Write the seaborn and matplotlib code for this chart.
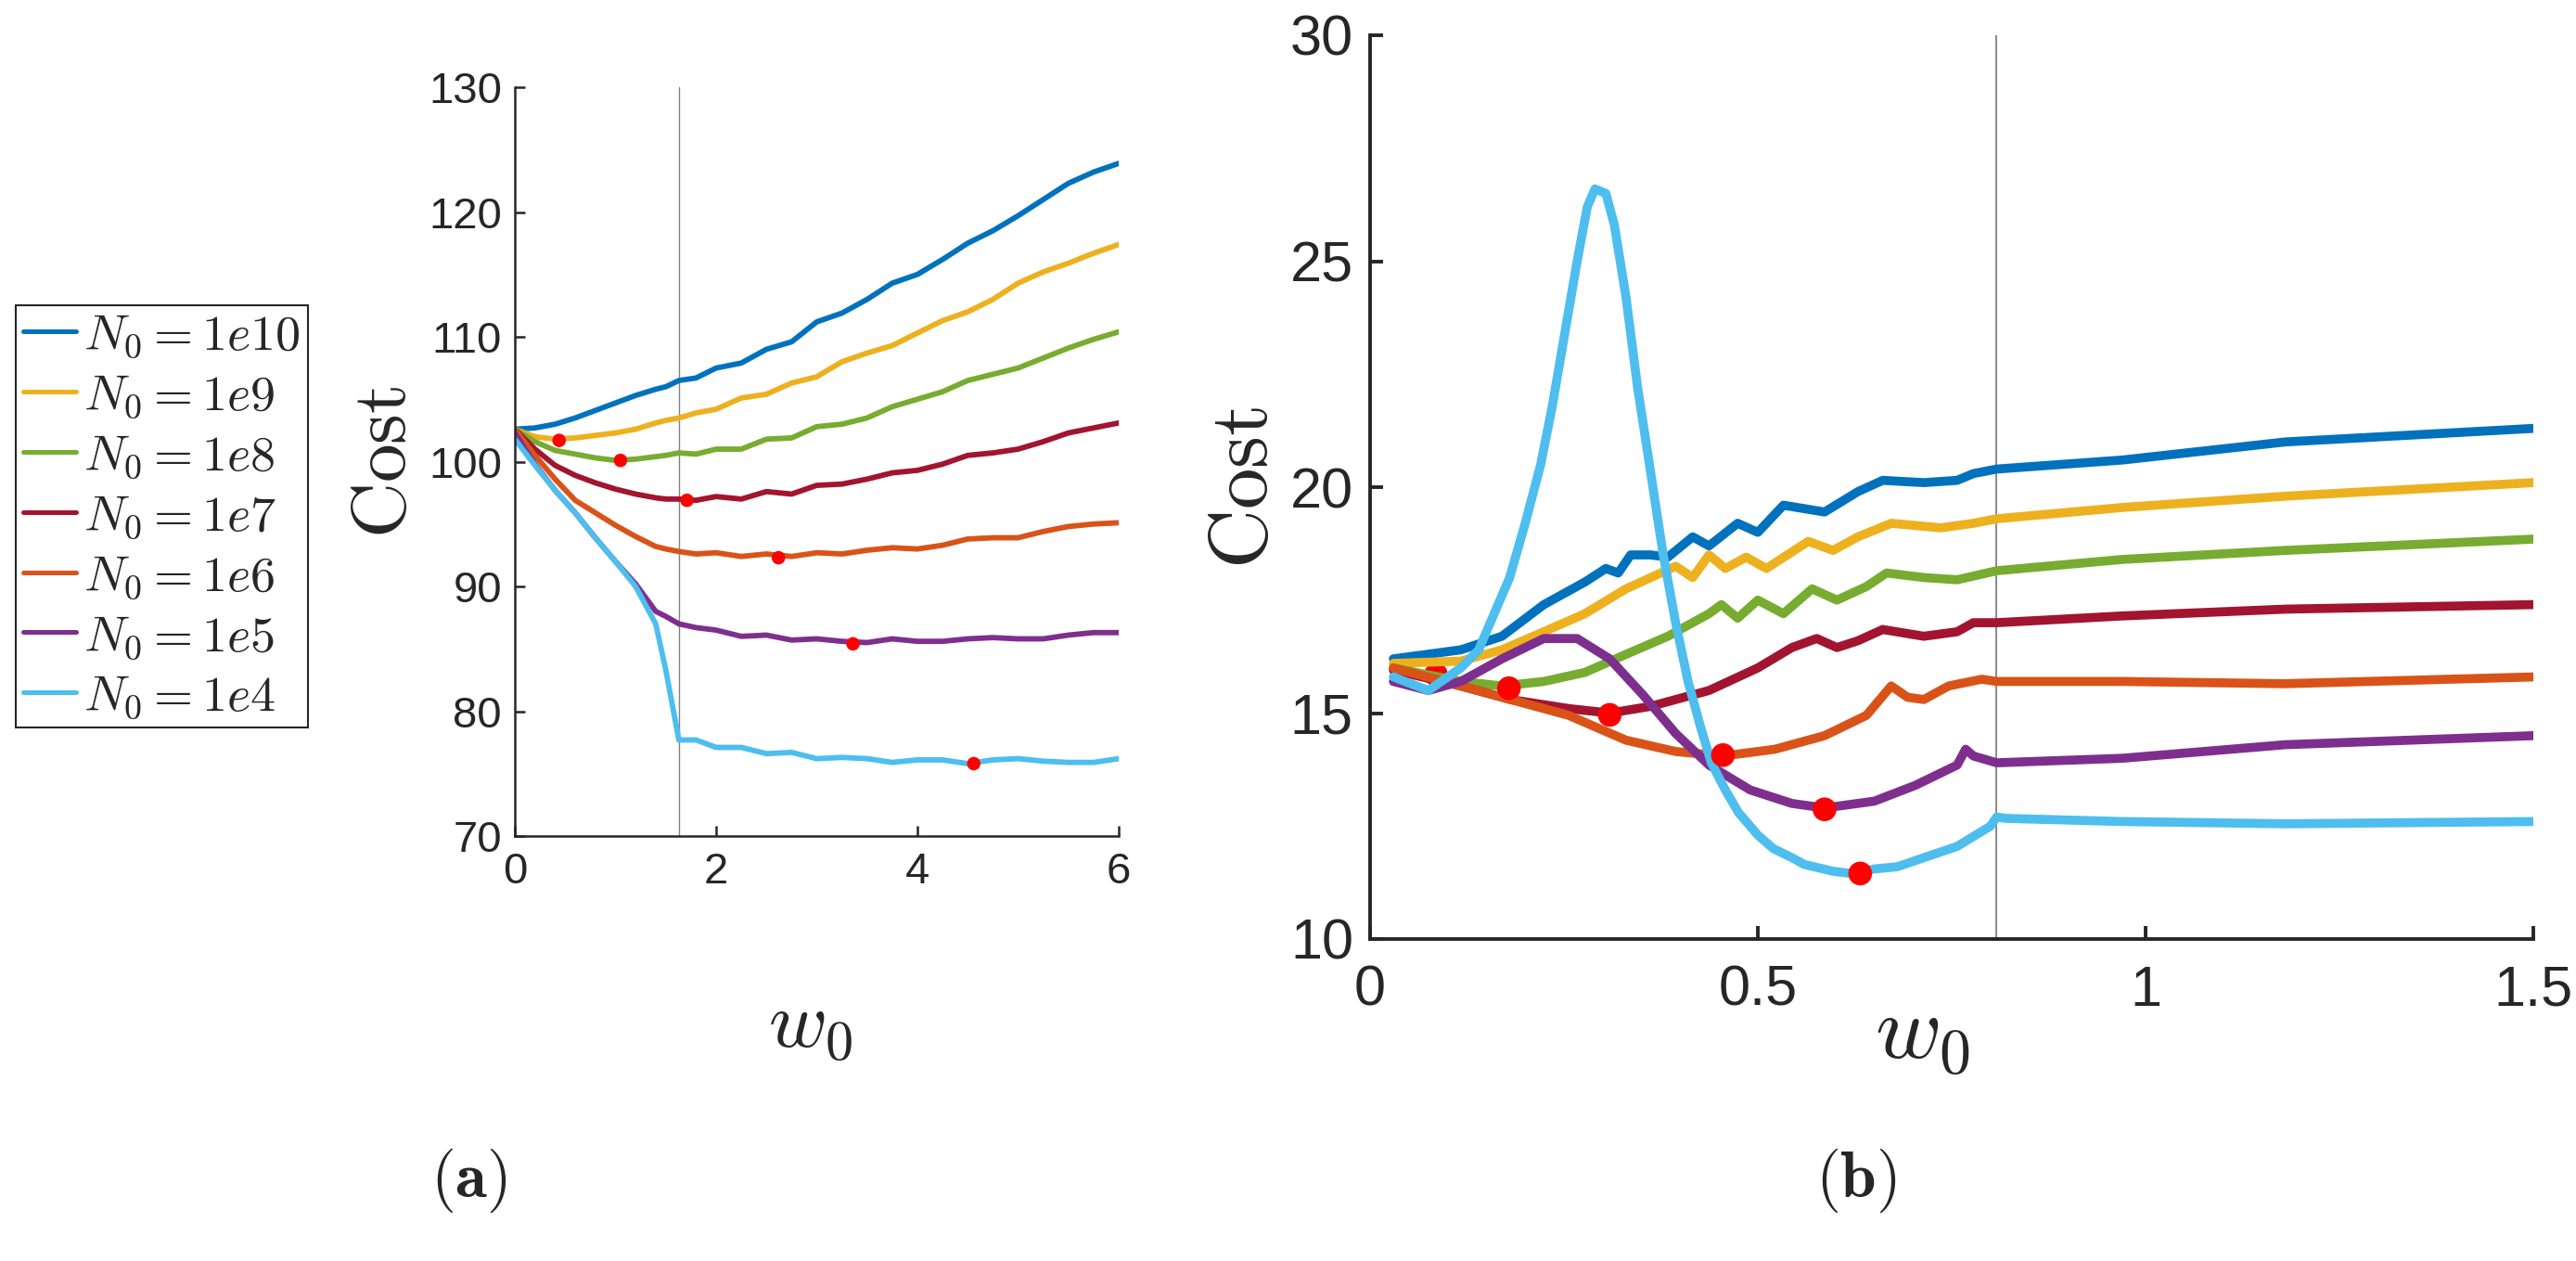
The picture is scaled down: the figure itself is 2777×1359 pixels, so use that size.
import matplotlib
matplotlib.use('Agg')
import numpy as np
import pandas as pd
import matplotlib.pyplot as plt
import seaborn as sns

# Series labels and MATLAB default colours
LABELS = [r'$N_0 = 1e10$', r'$N_0 = 1e9$', r'$N_0 = 1e8$', r'$N_0 = 1e7$',
          r'$N_0 = 1e6$', r'$N_0 = 1e5$', r'$N_0 = 1e4$']
COLORS = ['#0072BD', '#EDB120', '#77AC30', '#A2142F', '#D95319', '#7E2F8E', '#4DBEEE']

# Panel (a) values
W0_A = [0, 0.2, 0.4, 0.6, 0.8, 1.0, 1.2, 1.4, 1.5, 1.63, 1.8, 2.0, 2.25, 2.5, 2.75,
        3.0, 3.25, 3.5, 3.75, 4.0, 4.25, 4.5, 4.75, 5.0, 5.25, 5.5, 5.75, 6.0]
COST_A_1E10 = [102.6, 102.7, 103.0, 103.5, 104.1, 104.7, 105.3, 105.8, 106.0, 106.5, 106.7, 107.5, 107.9, 109.0,
               109.6, 111.2, 111.9, 113.0, 114.3, 115.0, 116.2, 117.5, 118.5, 119.7, 121.0, 122.3, 123.2, 123.9]
COST_A_1E9 = [102.6, 102.0, 101.8, 101.9, 102.1, 102.3, 102.6, 103.1, 103.3, 103.5, 103.9, 104.2, 105.1, 105.4,
              106.3, 106.8, 108.0, 108.7, 109.3, 110.3, 111.3, 112.0, 113.0, 114.3, 115.2, 115.9, 116.7, 117.4]
COST_A_1E8 = [102.6, 101.6, 100.9, 100.6, 100.3, 100.1, 100.2, 100.4, 100.5, 100.7, 100.6, 101.0, 101.0, 101.8,
              101.9, 102.8, 103.0, 103.5, 104.4, 105.0, 105.6, 106.5, 107.0, 107.5, 108.3, 109.1, 109.8, 110.4]
COST_A_1E7 = [102.6, 101.0, 99.7, 98.9, 98.3, 97.8, 97.4, 97.1, 97.0, 97.0, 96.9, 97.2, 97.0, 97.6,
              97.4, 98.1, 98.2, 98.6, 99.1, 99.3, 99.8, 100.5, 100.7, 101.0, 101.6, 102.3, 102.7, 103.1]
COST_A_1E6 = [102.6, 100.5, 98.6, 96.9, 95.9, 94.9, 94.0, 93.2, 93.0, 92.8, 92.6, 92.7, 92.4, 92.6,
              92.4, 92.7, 92.6, 92.9, 93.1, 93.0, 93.3, 93.8, 93.9, 93.9, 94.4, 94.8, 95.0, 95.1]
COST_A_1E5 = [102.3, 99.8, 97.7, 95.9, 93.9, 92.0, 90.2, 88.0, 87.6, 87.0, 86.7, 86.5, 86.0, 86.1,
              85.7, 85.8, 85.6, 85.5, 85.8, 85.6, 85.6, 85.8, 85.9, 85.8, 85.8, 86.1, 86.3, 86.3]
COST_A_1E4 = [101.8, 99.7, 97.7, 95.9, 93.9, 92.0, 90.0, 87.0, 83.3, 77.7, 77.7, 77.1, 77.1, 76.6,
              76.7, 76.2, 76.3, 76.2, 75.9, 76.1, 76.1, 75.8, 76.1, 76.2, 76.0, 75.9, 75.9, 76.2]
MIN_W0_A = [0.44, 1.05, 1.71, 2.62, 3.36, 4.56]
MIN_COST_A = [101.7, 100.1, 96.9, 92.3, 85.4, 75.8]
SWITCH_A = 1.635

# Panel (b) values
W0_B_1E10 = [0.03, 0.117, 0.17, 0.224, 0.277, 0.304, 0.32, 0.336, 0.362, 0.384, 0.416, 0.437, 0.474,
             0.5, 0.533, 0.586, 0.629, 0.661, 0.714, 0.757, 0.778, 0.808, 0.97, 1.18, 1.5]
COST_B_1E10 = [16.2, 16.4, 16.7, 17.4, 17.9, 18.2, 18.1, 18.5, 18.5, 18.45, 18.9, 18.7, 19.2,
               19.0, 19.6, 19.45, 19.9, 20.15, 20.1, 20.15, 20.3, 20.4, 20.6, 21.0, 21.3]
W0_B_1E9 = [0.03, 0.117, 0.17, 0.224, 0.277, 0.33, 0.362, 0.394, 0.416, 0.437, 0.458, 0.485, 0.511,
            0.565, 0.597, 0.629, 0.672, 0.736, 0.778, 0.808, 0.97, 1.18, 1.5]
COST_B_1E9 = [16.1, 16.15, 16.4, 16.8, 17.2, 17.75, 18.0, 18.25, 18.0, 18.5, 18.2, 18.45, 18.2,
              18.8, 18.6, 18.9, 19.2, 19.1, 19.2, 19.3, 19.55, 19.8, 20.1]
W0_B_1E8 = [0.03, 0.117, 0.17, 0.224, 0.277, 0.33, 0.384, 0.437, 0.453, 0.474, 0.5, 0.533, 0.57,
            0.602, 0.64, 0.666, 0.714, 0.757, 0.808, 0.97, 1.18, 1.5]
COST_B_1E8 = [16.0, 15.7, 15.6, 15.7, 15.9, 16.3, 16.7, 17.2, 17.4, 17.1, 17.5, 17.2, 17.75,
              17.5, 17.8, 18.1, 18.0, 17.95, 18.15, 18.4, 18.6, 18.85]
W0_B_1E7 = [0.03, 0.117, 0.181, 0.256, 0.309, 0.362, 0.437, 0.5, 0.544, 0.576, 0.602, 0.629, 0.661,
            0.714, 0.757, 0.778, 0.808, 0.97, 1.18, 1.5]
COST_B_1E7 = [15.95, 15.6, 15.3, 15.1, 15.0, 15.15, 15.5, 16.0, 16.45, 16.65, 16.45, 16.6, 16.85,
              16.7, 16.8, 17.0, 17.0, 17.15, 17.3, 17.4]
W0_B_1E6 = [0.03, 0.117, 0.181, 0.256, 0.33, 0.394, 0.455, 0.522, 0.586, 0.64, 0.672, 0.693, 0.714,
            0.746, 0.789, 0.808, 0.97, 1.18, 1.5]
COST_B_1E6 = [16.0, 15.6, 15.3, 14.95, 14.4, 14.15, 14.05, 14.2, 14.5, 14.95, 15.6, 15.35, 15.3,
              15.6, 15.75, 15.7, 15.7, 15.65, 15.8]
W0_B_1E5 = [0.03, 0.075, 0.117, 0.17, 0.224, 0.267, 0.309, 0.352, 0.394, 0.437, 0.49, 0.544, 0.586,
            0.65, 0.703, 0.757, 0.768, 0.778, 0.808, 0.97, 1.18, 1.5]
COST_B_1E5 = [15.7, 15.5, 15.7, 16.2, 16.65, 16.65, 16.2, 15.4, 14.55, 13.85, 13.3, 13.0, 12.9,
              13.05, 13.4, 13.85, 14.2, 14.05, 13.9, 14.0, 14.3, 14.5]
W0_B_1E4 = [0.03, 0.075, 0.117, 0.14, 0.16, 0.18, 0.2, 0.22, 0.235, 0.25, 0.267, 0.28, 0.29, 0.304,
            0.315, 0.33, 0.345, 0.362, 0.378, 0.394, 0.41, 0.426, 0.44, 0.458, 0.475, 0.5, 0.52,
            0.544, 0.56, 0.597, 0.62, 0.65, 0.68, 0.714, 0.757, 0.8, 0.808, 0.82, 0.97, 1.18, 1.5]
COST_B_1E4 = [15.8, 15.5, 16.0, 16.4, 17.2, 18.0, 19.2, 20.5, 21.8, 23.3, 25.0, 26.2, 26.6, 26.5,
              25.8, 24.2, 22.2, 20.3, 18.5, 17.0, 15.7, 14.7, 13.9, 13.3, 12.8, 12.3, 12.0,
              11.8, 11.65, 11.5, 11.45, 11.55, 11.6, 11.8, 12.05, 12.5, 12.7, 12.67, 12.6, 12.55, 12.6]
MIN_W0_B = [0.179, 0.309, 0.455, 0.586, 0.632]
MIN_COST_B = [15.55, 14.96, 14.07, 12.87, 11.45]
HIDDEN_MIN_W0_B = [0.085]
HIDDEN_MIN_COST_B = [15.85]
SWITCH_B = 0.808


def long_frame(xs, ys):
    parts = []
    for label, x, y in zip(LABELS, xs, ys):
        parts.append(pd.DataFrame({'w0': x, 'cost': y, 'series': label}))
    return pd.concat(parts, ignore_index=True)


df_a = long_frame([W0_A] * 7, [COST_A_1E10, COST_A_1E9, COST_A_1E8, COST_A_1E7,
                                COST_A_1E6, COST_A_1E5, COST_A_1E4])
df_b = long_frame([W0_B_1E10, W0_B_1E9, W0_B_1E8, W0_B_1E7, W0_B_1E6, W0_B_1E5, W0_B_1E4],
                  [COST_B_1E10, COST_B_1E9, COST_B_1E8, COST_B_1E7, COST_B_1E6, COST_B_1E5, COST_B_1E4])

sns.set_theme(style='ticks')
plt.rcParams['font.family'] = ['Liberation Sans', 'DejaVu Sans']
plt.rcParams['mathtext.fontset'] = 'cm'
DARK = '#262626'

W, H = 2777, 1359
fig = plt.figure(figsize=(W / 100, H / 100), dpi=100)
ax_a = fig.add_axes([555 / W, 1 - 901 / H, 651 / W, 807 / H])
ax_b = fig.add_axes([1477 / W, 1 - 1012 / H, 1254 / W, 974 / H])

sns.lineplot(data=df_a, x='w0', y='cost', hue='series', hue_order=LABELS, palette=COLORS,
             sort=False, estimator=None, linewidth=4.2, ax=ax_a)
sns.lineplot(data=df_b, x='w0', y='cost', hue='series', hue_order=LABELS, palette=COLORS,
             sort=False, estimator=None, linewidth=7, legend=False, ax=ax_b)

sns.scatterplot(x=MIN_W0_A, y=MIN_COST_A, color='red', s=110, edgecolor='none', zorder=5, ax=ax_a)
sns.scatterplot(x=MIN_W0_B, y=MIN_COST_B, color='red', s=340, edgecolor='none', zorder=5, ax=ax_b)
sns.scatterplot(x=HIDDEN_MIN_W0_B, y=HIDDEN_MIN_COST_B, color='red', s=340, edgecolor='none',
                zorder=1.5, ax=ax_b)

ax_a.axvline(SWITCH_A, color='#808080', linewidth=1.0, zorder=1)
ax_b.axvline(SWITCH_B, color='#808080', linewidth=1.3, zorder=1)

handles, labels = ax_a.get_legend_handles_labels()
ax_a.get_legend().remove()

# Axis styling (MATLAB-like: box off, ticks inside)
for ax, tsize, lw, tlen in [(ax_a, 34, 1.8, 8), (ax_b, 44, 2.8, 10)]:
    sns.despine(ax=ax)
    for side in ['left', 'bottom']:
        ax.spines[side].set_linewidth(lw)
        ax.spines[side].set_color(DARK)
    ax.tick_params(direction='in', length=tlen, width=lw, colors=DARK, labelsize=tsize)

ax_a.set_xlim(0, 6)
ax_a.set_ylim(70, 130)
ax_a.set_xticks([0, 2, 4, 6])
ax_a.set_yticks([70, 80, 90, 100, 110, 120, 130])
ax_a.tick_params(axis='y', pad=10)
ax_a.tick_params(axis='x', pad=12)

ax_b.set_xlim(0, 1.5)
ax_b.set_ylim(10, 30)
ax_b.set_xticks([0, 0.5, 1, 1.5])
ax_b.set_xticklabels(['0', '0.5', '1', '1.5'])
ax_b.set_yticks([10, 15, 20, 25, 30])
ax_b.tick_params(axis='y', pad=13)
ax_b.tick_params(axis='x', pad=20)

ax_a.set_xlabel(r'$w_0$', fontsize=62, color=DARK)
ax_a.set_ylabel(r'$\mathrm{Cost}$', fontsize=60, color=DARK)
ax_b.set_xlabel(r'$w_0$', fontsize=70, color=DARK)
ax_b.set_ylabel(r'$\mathrm{Cost}$', fontsize=64, color=DARK)
ax_a.xaxis.set_label_coords(0.49, -0.255)
ax_a.yaxis.set_label_coords(-0.215, 0.5)
ax_b.xaxis.set_label_coords(0.475, -0.108)
ax_b.yaxis.set_label_coords(-0.107, 0.5)
for ax in (ax_a, ax_b):
    ax.xaxis.label.set_va('center')
    ax.yaxis.label.set_va('center')

fig.text(505 / W, 1 - 1272 / H, r'$(\mathbf{a})$', fontsize=50, ha='center', va='center')
fig.text(2001 / W, 1 - 1272 / H, r'$(\mathbf{b})$', fontsize=50, ha='center', va='center')

leg = fig.legend(handles, labels, loc='upper left', bbox_to_anchor=(17 / W, 1 - 329 / H),
                 fontsize=39, frameon=True, fancybox=False, edgecolor=DARK, framealpha=1,
                 borderpad=0.15, handlelength=1.05, handletextpad=0.15, labelspacing=0.27,
                 borderaxespad=0)
leg.get_frame().set_linewidth(1.5)
for line in leg.get_lines():
    line.set_linewidth(3.6)

fig.savefig('out.png', dpi=100, facecolor='white')
